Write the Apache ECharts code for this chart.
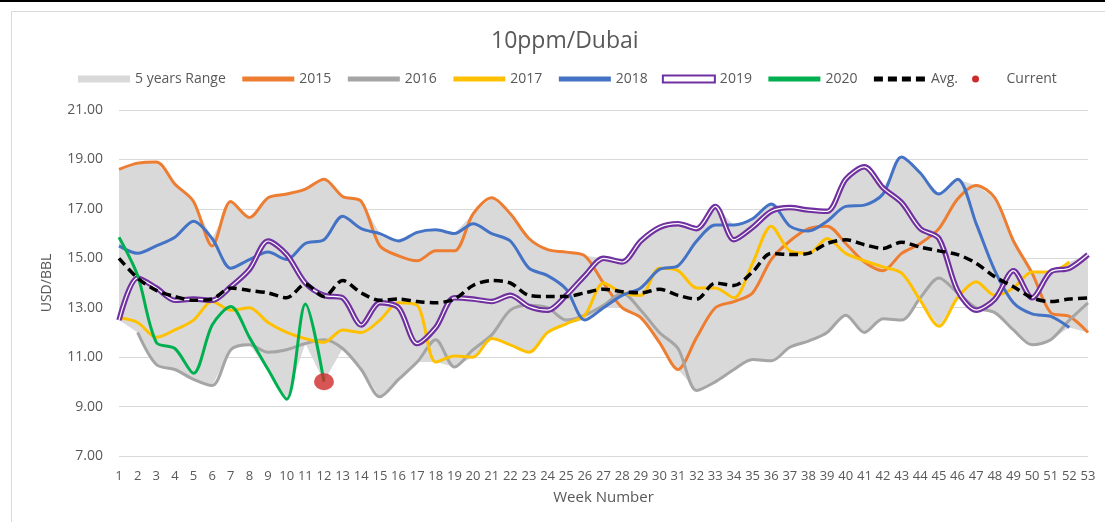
<!DOCTYPE html>
<html>
<head>
<meta charset="utf-8">
<script src="https://cdn.jsdelivr.net/npm/echarts@6/dist/echarts.min.js"></script>
<style>
html,body{margin:0;padding:0;background:#fff;}
#c{width:1105px;height:522px;}
</style>
</head>
<body>
<div id="c"></div>
<script>
const weeks = ['1','2','3','4','5','6','7','8','9','10','11','12','13','14','15','16','17','18','19','20','21','22','23','24','25','26','27','28','29','30','31','32','33','34','35','36','37','38','39','40','41','42','43','44','45','46','47','48','49','50','51','52','53'];

const y2015 = [18.6,18.85,18.9,18.0,17.3,15.5,17.3,16.65,17.45,17.6,17.8,18.2,17.5,17.3,15.5,15.1,14.9,15.3,15.3,16.8,17.45,16.8,15.8,15.35,15.25,15.1,14.0,13.0,12.6,11.6,10.5,11.8,13.0,13.25,13.6,14.95,15.7,16.2,16.3,15.6,14.85,14.5,15.2,15.6,16.2,17.4,17.95,17.45,15.7,14.4,12.8,12.65,12.0];
const y2016 = [null,12.0,10.7,10.5,10.1,9.85,11.3,11.5,11.2,11.3,11.55,11.7,11.35,10.5,9.4,10.1,10.8,11.7,10.6,11.3,11.9,12.9,13.1,13.0,12.5,12.7,13.1,13.6,12.9,12.0,11.35,9.65,10.0,10.5,10.9,10.85,11.4,11.65,12.0,12.7,12.0,12.55,12.5,13.4,14.2,13.6,13.0,12.8,12.1,11.5,11.7,12.5,13.2];
const y2017 = [12.6,12.4,11.8,12.1,12.5,13.25,12.9,13.0,12.4,12.0,11.75,11.6,12.1,12.0,12.5,13.2,13.1,10.8,11.05,11.0,11.75,11.5,11.2,12.0,12.35,12.7,14.0,13.6,13.5,14.6,14.5,13.8,13.8,13.4,14.8,16.3,15.3,15.2,15.8,15.2,14.9,14.65,14.4,13.3,12.25,13.4,14.05,13.5,13.8,14.45,14.45,14.85,null];
const y2018 = [15.5,15.2,15.5,15.85,16.5,15.8,14.6,14.95,15.25,14.95,15.6,15.75,16.7,16.2,16.0,15.7,16.05,16.15,16.0,16.4,16.0,15.7,14.6,14.3,13.75,12.5,13.0,13.5,13.8,14.55,14.7,15.7,16.35,16.35,16.6,17.2,16.3,16.1,16.5,17.1,17.15,17.6,19.1,18.45,17.6,18.2,16.4,14.5,13.2,12.75,12.65,12.2,null];
const y2019 = [12.5,14.2,13.8,13.3,13.35,13.3,13.85,14.55,15.7,15.15,14.0,13.5,13.4,12.3,13.2,13.0,11.55,12.2,13.4,13.35,13.25,13.5,13.05,12.9,13.5,14.3,15.0,14.85,15.7,16.25,16.4,16.2,17.1,15.75,16.25,16.9,17.05,16.95,16.9,18.2,18.7,17.85,17.25,16.2,15.8,13.7,12.9,13.35,14.5,13.4,14.45,14.6,15.15];
const y2020 = [15.85,14.3,11.6,11.35,10.35,12.3,13.05,11.8,10.5,9.3,13.15,10.0];
const avg = [15.0,14.2,13.7,13.45,13.3,13.35,13.8,13.7,13.6,13.4,13.95,13.45,14.1,13.6,13.3,13.35,13.25,13.2,13.35,13.9,14.1,14.0,13.5,13.45,13.45,13.6,13.75,13.65,13.6,13.75,13.5,13.35,14.0,13.9,14.45,15.2,15.15,15.2,15.6,15.75,15.55,15.4,15.65,15.45,15.3,15.15,14.8,14.25,13.85,13.4,13.25,13.35,13.4];
const current = [null,null,null,null,null,null,null,null,null,null,null,10.0];
const rangeHigh = [18.6,18.85,18.9,18.0,17.3,15.8,17.3,16.65,17.45,17.6,17.8,18.2,17.5,17.3,16.0,15.7,16.05,16.15,16.0,16.8,17.45,16.8,15.8,15.35,15.25,15.1,15.0,14.85,15.7,16.25,16.4,16.2,17.1,16.35,16.6,17.2,17.05,16.95,16.9,18.2,18.7,17.85,19.1,18.45,17.6,18.2,17.95,17.45,15.7,14.45,14.45,14.85,15.15];
const rangeLow = [12.5,12.0,10.7,10.5,10.1,9.85,11.3,11.5,10.5,9.3,11.55,10.0,11.35,10.5,9.4,10.1,10.8,10.8,10.6,11.0,11.75,11.5,11.2,12.0,12.35,12.5,13.0,13.0,12.6,11.6,10.5,9.65,10.0,10.5,10.9,10.85,11.4,11.65,12.0,12.7,12.0,12.55,12.5,13.3,12.25,13.4,12.9,12.8,12.1,11.5,11.7,12.2,12.0];

const FONT = "'Open Sans', 'Noto Sans', sans-serif";
const TXT = '#595959';
const rangeSpan = rangeHigh.map((h, i) => +(h - rangeLow[i]).toFixed(3));

function line(name, data, color, width, extra) {
  return Object.assign({
    name: name, type: 'line', data: data, smooth: 0.3, symbol: 'none',
    lineStyle: { color: color, width: width },
    itemStyle: { color: color },
    connectNulls: false, z: 3
  }, extra || {});
}

const chart = echarts.init(document.getElementById('c'), null, { renderer: 'canvas' });
chart.setOption({
  animation: false,
  backgroundColor: '#ffffff',
  title: {
    text: '10ppm/Dubai', left: 486, top: 25,
    textStyle: { fontFamily: FONT, fontSize: 23, fontWeight: 'normal', color: TXT }
  },
  legend: {
    left: 73, top: 67, itemWidth: 52, itemHeight: 7, itemGap: 14,
    lineStyle: { width: 5 },
    itemStyle: { opacity: 0 },
    textStyle: { fontFamily: FONT, fontSize: 14, color: TXT },
    data: [
      { name: '5 years Range', icon: 'rect', itemStyle: { color: '#D9D9D9', borderWidth: 0, opacity: 1 } },
      '2015', '2016', '2017', '2018',
      { name: '2019', icon: 'rect', itemStyle: { color: '#ffffff', borderColor: '#7030A0', borderWidth: 2, opacity: 1 } },
      '2020', 'Avg.',
      { name: 'Current', icon: 'circle', itemStyle: { color: '#CF2A2A', opacity: 1 } }
    ]
  },
  grid: { left: 119, right: 17, top: 110, bottom: 66 },
  xAxis: {
    type: 'category', data: weeks, boundaryGap: false,
    axisLine: { show: false }, axisTick: { show: false }, splitLine: { show: false },
    axisLabel: { interval: 0, margin: 14, fontSize: 13, color: TXT, fontFamily: FONT },
    name: 'Week Number', nameLocation: 'middle', nameGap: 34,
    nameTextStyle: { fontSize: 15, color: TXT, fontFamily: FONT }
  },
  yAxis: {
    type: 'value', min: 7, max: 21, interval: 2,
    axisLine: { show: false }, axisTick: { show: false },
    splitLine: { lineStyle: { color: '#D9D9D9', width: 1 } },
    axisLabel: { formatter: v => v.toFixed(2), margin: 16, fontSize: 14, color: TXT, fontFamily: FONT },
    name: 'USD/BBL', nameLocation: 'middle', nameGap: 65,
    nameTextStyle: { fontSize: 14, color: TXT, fontFamily: FONT }
  },
  graphic: [
    { type: 'rect', shape: { x: 11.5, y: 11.5, width: 1200, height: 600 }, style: { fill: null, stroke: '#D9D9D9', lineWidth: 1 }, silent: true, z: -1 },
    { type: 'rect', shape: { x: 0, y: 0, width: 1105, height: 2 }, style: { fill: '#000000' }, silent: true }
  ],
  series: [
    { name: 'rangeBase', type: 'line', data: rangeLow, stack: 'range', symbol: 'none', silent: true,
      lineStyle: { width: 0, opacity: 0 }, z: 1 },
    { name: '5 years Range', type: 'line', data: rangeSpan, stack: 'range', symbol: 'none', silent: true,
      lineStyle: { width: 0, opacity: 0 }, itemStyle: { color: '#D9D9D9' },
      areaStyle: { color: '#DAD9DA', opacity: 1 }, z: 1 },
    line('2015', y2015, '#ED7D31', 3),
    line('2016', y2016, '#A5A5A5', 3),
    line('2017', y2017, '#FFC000', 3),
    line('2018', y2018, '#4472C4', 3),
    line('2019', y2019, '#7030A0', 5.5),
    line('2019 inner', y2019, '#FFFFFF', 1.2, { z: 4, silent: true }),
    line('2020', y2020, '#00B050', 3, { z: 5 }),
    line('Avg.', avg, '#000000', 3.5, { z: 6, lineStyle: { color: '#000000', width: 3.5, type: [9, 5] } }),
    { name: 'Current', type: 'scatter', data: current, symbol: 'circle', symbolSize: [20, 17],
      itemStyle: { color: '#CF2A2A' }, z: 7 }
  ]
});
</script>
</body>
</html>
